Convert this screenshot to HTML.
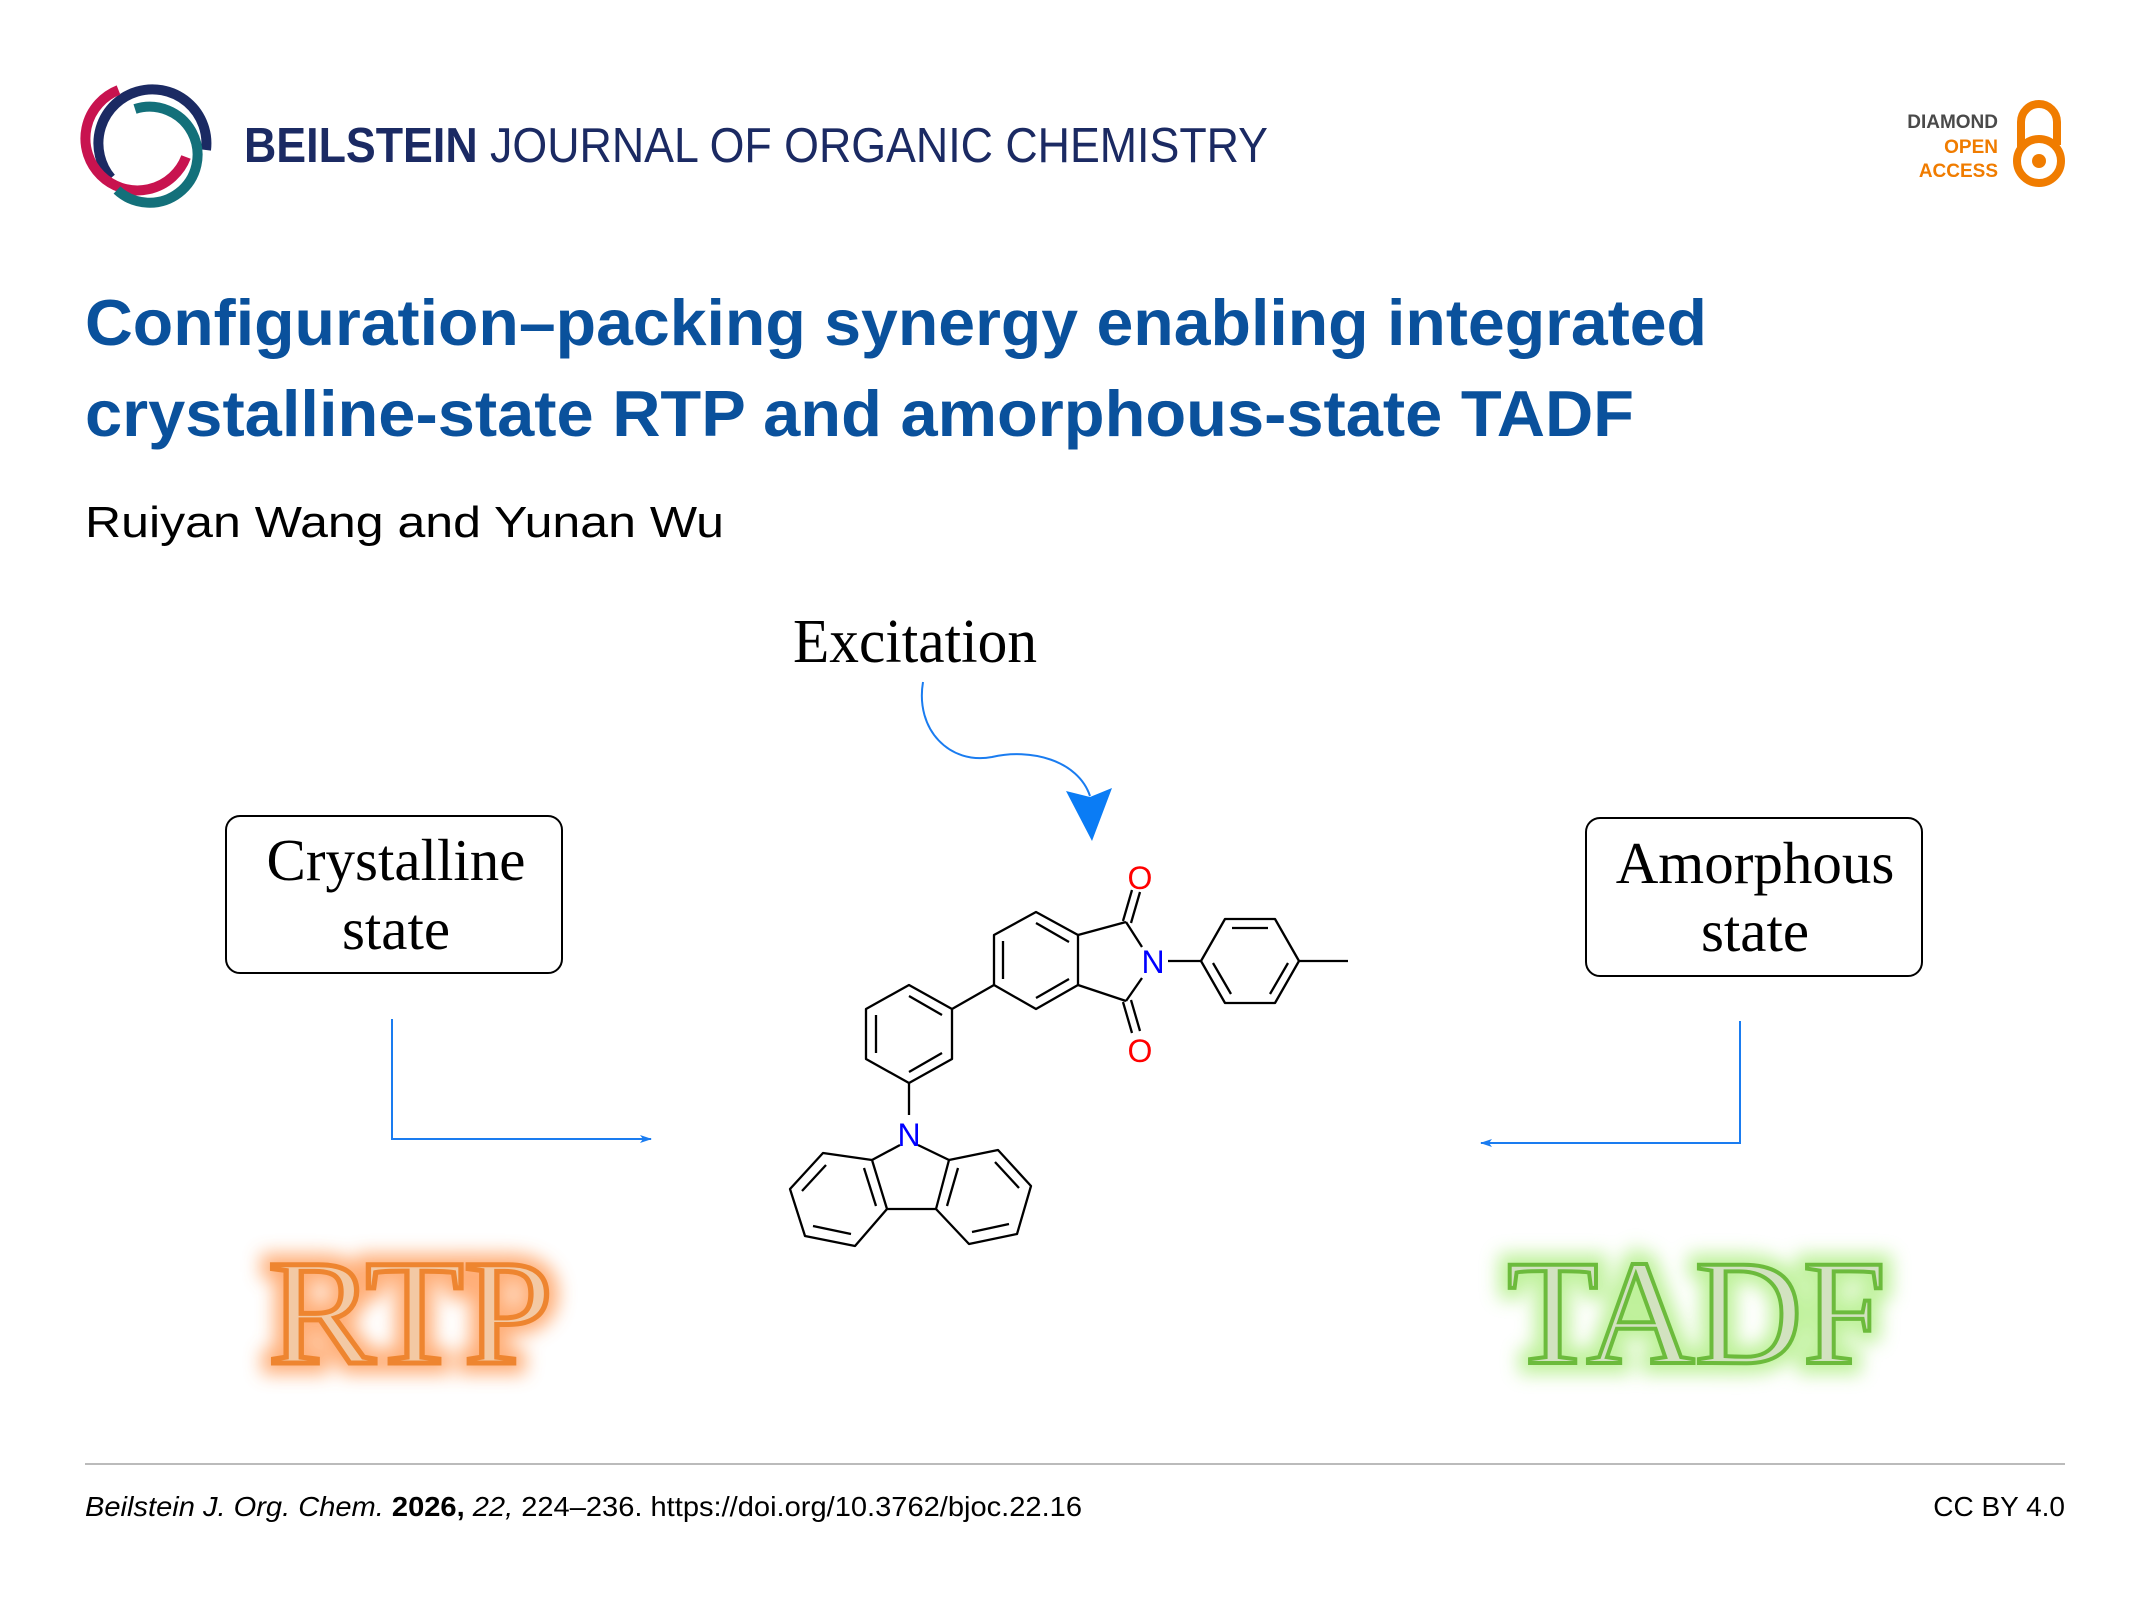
<!DOCTYPE html>
<html><head><meta charset="utf-8"><style>
html,body{margin:0;padding:0;background:#fff;}
body{width:2150px;height:1616px;overflow:hidden;position:relative;}
</style></head><body>
<svg width="2150" height="1616" viewBox="0 0 2150 1616" xmlns="http://www.w3.org/2000/svg">
<defs>
<filter id="go" x="-20%" y="-30%" width="140%" height="160%"><feGaussianBlur stdDeviation="9"/></filter>
<marker id="ah" markerWidth="12" markerHeight="8" refX="11" refY="4" orient="auto" markerUnits="userSpaceOnUse"><path d="M0,0 L12,4 L0,8 L3,4 Z" fill="#1a7cf0"/></marker>
</defs>
<!-- logo -->
<g fill="none">
<path d="M111,178 A54,54 0 1 1 206,150" stroke="#1b2a63" stroke-width="10"/>
<path d="M118.5,90 A52,52 0 1 0 186,157" stroke="#c8134f" stroke-width="10"/>
<path d="M135,109 A48,48 0 1 1 117,190" stroke="#13707a" stroke-width="10"/>
</g>
<text x="244" y="162" font-family="Liberation Sans, sans-serif" font-size="49" fill="#1b2a63" textLength="1024" lengthAdjust="spacingAndGlyphs"><tspan font-weight="bold">BEILSTEIN</tspan> JOURNAL OF ORGANIC CHEMISTRY</text>
<!-- open access -->
<g font-family="Liberation Sans, sans-serif" font-weight="bold" font-size="19" text-anchor="end">
<text x="1998" y="128" fill="#4a4a4a">DIAMOND</text>
<text x="1998" y="153" fill="#f07c00">OPEN</text>
<text x="1998" y="177" fill="#f07c00">ACCESS</text>
</g>
<circle cx="2039" cy="161" r="22" fill="none" stroke="#f07c00" stroke-width="8"/>
<circle cx="2039" cy="161" r="7" fill="#f07c00"/>
<path d="M2021,150 L2021,122 A18,18 0 0 1 2057,122 L2057,145" fill="none" stroke="#f07c00" stroke-width="8"/>
<!-- title -->
<g font-family="Liberation Sans, sans-serif" font-weight="bold" font-size="65" fill="#0a519c">
<text x="85" y="345" textLength="1622" lengthAdjust="spacingAndGlyphs">Configuration–packing synergy enabling integrated</text>
<text x="85" y="436" textLength="1549" lengthAdjust="spacingAndGlyphs">crystalline-state RTP and amorphous-state TADF</text>
</g>
<text x="85" y="537" font-family="Liberation Sans, sans-serif" font-size="44" fill="#000" textLength="639" lengthAdjust="spacingAndGlyphs">Ruiyan Wang and Yunan Wu</text>
<!-- excitation -->
<text x="793" y="662" font-family="Liberation Serif, serif" font-size="62" fill="#000" textLength="244" lengthAdjust="spacingAndGlyphs">Excitation</text>
<path d="M923,682 C915,730 950,765 992,757 C1030,748 1078,760 1090,796" fill="none" stroke="#1a7cf0" stroke-width="2"/>
<path d="M1066,791 L1090,797 L1112,788 L1092,841 Z" fill="#0a7cf5"/>
<!-- boxes -->
<rect x="226" y="816" width="336" height="157" rx="14" fill="#fff" stroke="#000" stroke-width="2"/>
<rect x="1586" y="818" width="336" height="158" rx="14" fill="#fff" stroke="#000" stroke-width="2"/>
<g font-family="Liberation Serif, serif" font-size="59" fill="#000" text-anchor="middle">
<text x="396" y="880">Crystalline</text><text x="396" y="949">state</text>
<text x="1755" y="883">Amorphous</text><text x="1755" y="951">state</text>
</g>
<!-- connectors -->
<path d="M392,1019 L392,1139 L651,1139" fill="none" stroke="#1a7cf0" stroke-width="2" marker-end="url(#ah)"/>
<path d="M1740,1021 L1740,1143 L1481,1143" fill="none" stroke="#1a7cf0" stroke-width="2" marker-end="url(#ah)"/>
<!-- molecule -->
<g stroke="#000" stroke-width="2.3" fill="none" stroke-linejoin="round">
<polygon points="1036,912 1078,935 1078,985 1036,1009 994,985 994,935"/>
<line x1="1036" y1="923" x2="1069" y2="942"/><line x1="1003" y1="941" x2="1003" y2="979"/><line x1="1036" y1="998" x2="1069" y2="979"/>
<line x1="1078" y1="935" x2="1126" y2="922"/><line x1="1126" y1="922" x2="1142" y2="947"/>
<line x1="1078" y1="985" x2="1126" y2="1001"/><line x1="1126" y1="1001" x2="1142" y2="978"/>
<line x1="1123" y1="921" x2="1132" y2="890"/><line x1="1131" y1="923" x2="1140" y2="892"/>
<line x1="1123" y1="1002" x2="1132" y2="1033"/><line x1="1131" y1="1000" x2="1140" y2="1031"/>
<line x1="1168" y1="961" x2="1201" y2="961"/>
<polygon points="1201,961 1225,919 1275,919 1299,961 1275,1003 1225,1003"/>
<line x1="1232" y1="928" x2="1268" y2="928"/><line x1="1213" y1="963" x2="1231" y2="994"/><line x1="1288" y1="963" x2="1270" y2="994"/>
<line x1="1299" y1="961" x2="1348" y2="961"/>
<line x1="994" y1="985" x2="952" y2="1009"/>
<polygon points="952,1009 909,985 866,1009 866,1059 909,1083 952,1059"/>
<line x1="909" y1="996" x2="942" y2="1015"/><line x1="876" y1="1015" x2="876" y2="1053"/><line x1="909" y1="1072" x2="942" y2="1053"/>
<line x1="909" y1="1083" x2="909" y2="1115"/>
<line x1="900" y1="1145" x2="872" y2="1160"/><line x1="918" y1="1145" x2="949" y2="1160"/>
<polygon points="872,1160 823,1153 790,1189 805,1236 855,1246 887,1209"/>
<line x1="826" y1="1165" x2="802" y2="1191"/><line x1="813" y1="1226" x2="851" y2="1234"/><line x1="876" y1="1206" x2="864" y2="1168"/>
<line x1="887" y1="1209" x2="936" y2="1209"/>
<polygon points="949,1160 998,1150 1031,1186 1017,1234 969,1244 936,1209"/>
<line x1="995" y1="1162" x2="1019" y2="1188"/><line x1="1009" y1="1224" x2="972" y2="1232"/><line x1="947" y1="1206" x2="958" y2="1168"/>
</g>
<g font-family="Liberation Sans, sans-serif" font-size="32" text-anchor="middle">
<text x="1140" y="889" fill="#f00">O</text>
<text x="1140" y="1062" fill="#f00">O</text>
<text x="1153" y="973" fill="#00f">N</text>
<text x="909" y="1146" fill="#00f">N</text>
</g>
<!-- RTP / TADF -->
<g font-family="Liberation Serif, serif" font-size="150">
<text x="268" y="1363" textLength="285" lengthAdjust="spacingAndGlyphs" fill="#ffb27a" stroke="#ffa060" stroke-width="22" filter="url(#go)" opacity="0.85">RTP</text>
<text x="268" y="1363" textLength="285" lengthAdjust="spacingAndGlyphs" fill="#f3c9a4" stroke="#ee8530" stroke-width="5">RTP</text>
<text x="1507" y="1363" textLength="379" lengthAdjust="spacingAndGlyphs" fill="#c6f5a0" stroke="#b8f090" stroke-width="22" filter="url(#go)" opacity="0.9">TADF</text>
<text x="1507" y="1363" textLength="379" lengthAdjust="spacingAndGlyphs" fill="#d2e2c0" stroke="#6cbb3c" stroke-width="4">TADF</text>
</g>
<!-- footer -->
<line x1="85" y1="1464" x2="2065" y2="1464" stroke="#bbb" stroke-width="2"/>
<text x="85" y="1516" font-family="Liberation Sans, sans-serif" font-size="28" fill="#000" textLength="997" lengthAdjust="spacingAndGlyphs"><tspan font-style="italic">Beilstein J. Org. Chem.</tspan> <tspan font-weight="bold">2026,</tspan> <tspan font-style="italic">22,</tspan> 224–236. https://doi.org/10.3762/bjoc.22.16</text>
<text x="2065" y="1516" font-family="Liberation Sans, sans-serif" font-size="28" fill="#000" text-anchor="end">CC BY 4.0</text>
</svg>
</body></html>
